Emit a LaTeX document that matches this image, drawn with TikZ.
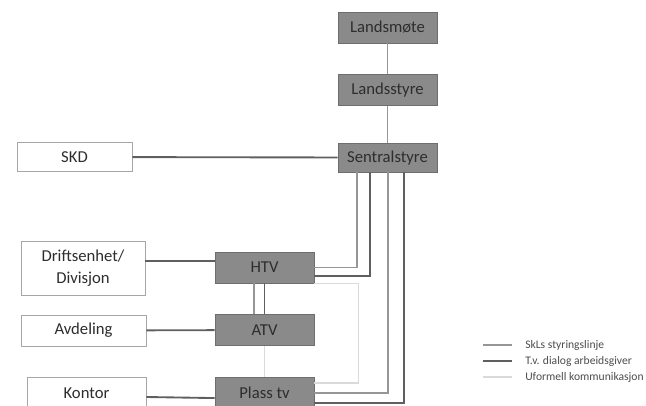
\documentclass[tikz,border=0pt]{standalone}
\usepackage{fontspec}
\setmainfont{Carlito}
\usepackage{tikz}
\usetikzlibrary{positioning,calc}
\definecolor{boksgraa}{RGB}{138,138,138}
\definecolor{kant}{RGB}{110,110,110}
\definecolor{tekst}{RGB}{45,45,45}
\definecolor{linjegraa}{RGB}{150,150,150}
\definecolor{dialoggraa}{RGB}{95,95,95}
\definecolor{lysgraa}{RGB}{218,218,218}
\tikzset{
  boks/.style={draw=kant, fill=boksgraa, minimum width=74.25pt, minimum height=23.25pt, inner sep=0pt, text=tekst, font=\fontsize{12.5}{17}\selectfont},
  hvit/.style={draw=linjegraa!85, fill=white, inner sep=0pt, align=center, text=tekst, font=\fontsize{12.5}{17}\selectfont},
  styr/.style={line width=1.4pt, linjegraa},
  dialog/.style={line width=1.4pt, dialoggraa},
  uformell/.style={line width=1pt, lysgraa},
  forkl/.style={font=\fontsize{8.7}{10}\selectfont, text=tekst!85, anchor=west, inner sep=0pt},
}

\begin{document}
\begin{tikzpicture}[x=0.75pt, y=-0.75pt, node distance=23.25pt]
  \useasboundingbox (0,0) rectangle (646,406);
  \clip (0,0) rectangle (646,406);
  % styret
  \node[boks] (lm) at (387.5,27.5) {Landsmøte};
  \node[boks, below=of lm] (ls) {Landsstyre};
  \node[boks, below=27.75pt of ls, minimum height=21.75pt] (ss) {Sentralstyre};
  \node[hvit, minimum width=86.25pt, minimum height=21.75pt] (skd) at (74.5,157) {SKD};
  % tillitsvalgte
  \node[boks] (htv) at (264.5,267.5) {HTV};
  \node[boks, below=of htv] (atv) {ATV};
  \node[boks, below=of atv] (ptv) {Plass tv};
  \node[hvit, minimum width=93pt, minimum height=40.5pt] (drift) at (83,268) {Driftsenhet/\\Divisjon};
  \node[hvit, minimum width=93.75pt, minimum height=23.25pt] (avd) at (83.5,330.5) {Avdeling};
  \node[hvit, minimum width=89.25pt, minimum height=24pt] (kontor) at (86.5,393) {Kontor};

  \draw[uformell] (htv.south east) -- ++(44,0) |- ($(ptv.east)+(0,-9.5)$);
  \draw[uformell] (atv.south) -- (ptv.north);
  \draw[styr] (lm) -- (ls);
  \draw[styr] (ls) -- (ss);
  \draw[dialog] (skd) -- (ss);
  \draw[dialog] ($(drift.east)+(0,-7)$) -- ($(htv.west)+(0,-6.5)$);
  \draw[dialog] (avd) -- (atv);
  \draw[dialog] ($(kontor.east)+(0,4)$) -- ($(ptv.west)+(0,5.5)$);
  \draw[styr] ($(ss.south)+(-30.5,0)$) |- (htv.east);
  \draw[dialog] ($(ss.south)+(-17.5,0)$) |- ($(htv.east)+(0,8.5)$);
  \draw[styr] ($(ss.south)+(0.5,0)$) |- (ptv.east);
  \draw[dialog] ($(ss.south)+(16.5,0)$) |- ($(ptv.east)+(0,10.5)$);
  \draw[styr] ($(htv.south)+(-10.5,0)$) -- ($(atv.north)+(-10.5,0)$);
  \draw[dialog] (htv) -- (atv);

  % forklaring
  \node[forkl] (leg1) at (525,345) {SkLs styringslinje};
  \node[forkl] (leg2) at (525,361) {T.v. dialog arbeidsgiver};
  \node[forkl] (leg3) at (525,377) {Uformell kommunikasjon};
  \draw[styr, line width=0.8pt] ($(leg1.west)+(-13,0)$) -- ++(-29,0);
  \draw[dialog, line width=0.8pt] ($(leg2.west)+(-13,0)$) -- ++(-29,0);
  \draw[uformell, line width=0.8pt] ($(leg3.west)+(-13,0)$) -- ++(-29,0);
\end{tikzpicture}
\end{document}
